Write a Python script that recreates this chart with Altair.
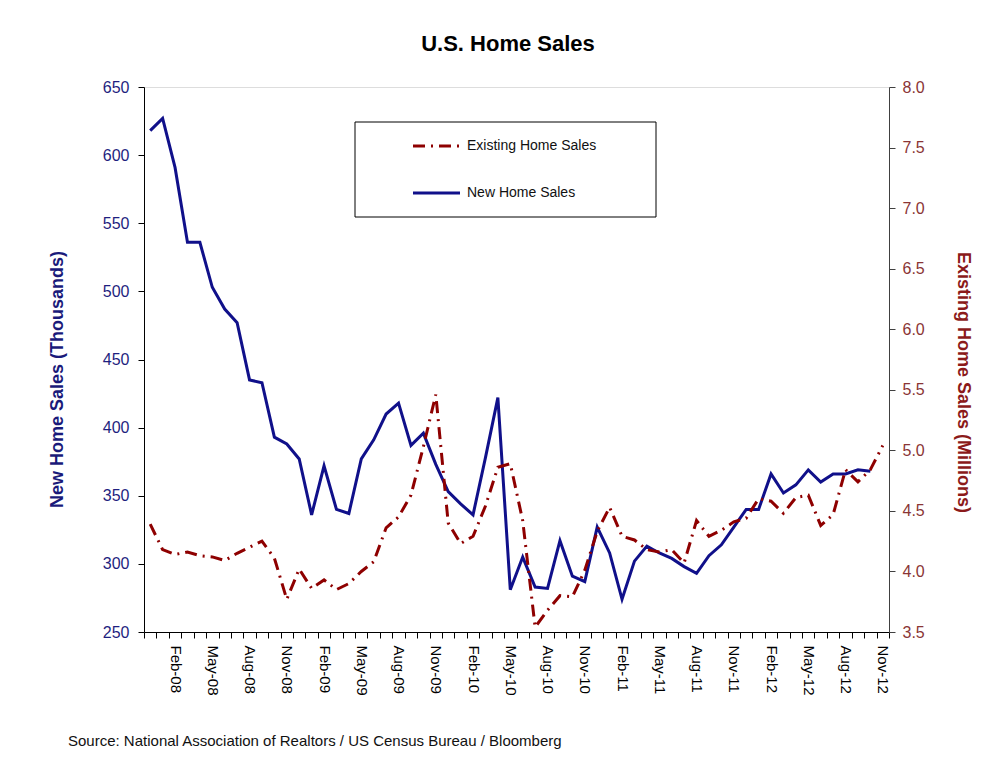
import json
import altair as alt
import pandas as pd

# ---------------- data ----------------
months = [
    "Dec-07",
    "Jan-08", "Feb-08", "Mar-08", "Apr-08", "May-08", "Jun-08", "Jul-08", "Aug-08", "Sep-08", "Oct-08", "Nov-08", "Dec-08",
    "Jan-09", "Feb-09", "Mar-09", "Apr-09", "May-09", "Jun-09", "Jul-09", "Aug-09", "Sep-09", "Oct-09", "Nov-09", "Dec-09",
    "Jan-10", "Feb-10", "Mar-10", "Apr-10", "May-10", "Jun-10", "Jul-10", "Aug-10", "Sep-10", "Oct-10", "Nov-10", "Dec-10",
    "Jan-11", "Feb-11", "Mar-11", "Apr-11", "May-11", "Jun-11", "Jul-11", "Aug-11", "Sep-11", "Oct-11", "Nov-11", "Dec-11",
    "Jan-12", "Feb-12", "Mar-12", "Apr-12", "May-12", "Jun-12", "Jul-12", "Aug-12", "Sep-12", "Oct-12", "Nov-12",
]

# New home sales (thousands), Dec-07 .. Oct-12
new_home = [
    618,
    627, 591, 536, 536, 503, 487, 477, 435, 433, 393, 388, 377,
    336, 372, 340, 337, 377, 391, 410, 418, 387, 396, 373, 353,
    344, 336, 378, 422, 281, 305, 283, 282, 317, 291, 287, 327,
    308, 274, 302, 313, 308, 304, 298, 293, 306, 314, 327, 340,
    340, 366, 352, 358, 369, 360, 366, 366, 369, 368,
]

# Existing home sales (millions), Dec-07 .. Nov-12
existing = [
    4.39,
    4.18, 4.14, 4.16, 4.13, 4.12, 4.09, 4.15, 4.20, 4.25, 4.11, 3.77, 4.02,
    3.86, 3.93, 3.85, 3.90, 4.00, 4.08, 4.36, 4.45, 4.63, 5.03, 5.46, 4.40,
    4.23, 4.29, 4.54, 4.86, 4.89, 4.42, 3.54, 3.68, 3.80, 3.79, 4.01, 4.33,
    4.53, 4.29, 4.26, 4.18, 4.16, 4.18, 4.07, 4.42, 4.29, 4.34, 4.41, 4.44,
    4.60, 4.58, 4.48, 4.61, 4.63, 4.38, 4.47, 4.84, 4.74, 4.84, 5.04,
]

left_ticks = [250, 300, 350, 400, 450, 500, 550, 600, 650]
right_ticks = [3.5, 4.0, 4.5, 5.0, 5.5, 6.0, 6.5, 7.0, 7.5, 8.0]
legend_labels = ["Existing Home Sales", "New Home Sales"]
chart_title = ["U.S. Home Sales"]
source_text = ["Source:  National Association of Realtors / US Census Bureau / Bloomberg"]

NAVY = "#10108a"
RED = "#8e0000"
FONT = "Liberation Sans"

new_df = pd.DataFrame({"month": months[: len(new_home)], "value": new_home})
ex_df = pd.DataFrame({"month": months, "value": existing})

shown = [m for m in months if m[:3] in ("Feb", "May", "Aug", "Nov")]
label_expr = "indexof(" + json.dumps(shown) + ", datum.value) >= 0 ? datum.value : ''"

x_axis = alt.Axis(
    title=None, labelAngle=90, labelAlign="left", labelBaseline="middle",
    labelExpr=label_expr, tickBand="extent", labelOverlap=False, labelBound=False,
    labelFontSize=15, labelColor="black", labelFont=FONT, tickSize=6, labelPadding=7,
    domainColor="black", tickColor="black", grid=False,
)
x_enc = alt.X(
    "month:O", sort=months,
    scale=alt.Scale(type="band", domain=months, paddingInner=0, paddingOuter=0),
    bandPosition=0.5, axis=x_axis,
)

new_line = alt.Chart(new_df).mark_line(color=NAVY, strokeWidth=3).encode(
    x=x_enc,
    y=alt.Y(
        "value:Q",
        scale=alt.Scale(domain=[250, 650], zero=False, nice=False),
        axis=alt.Axis(
            orient="left", values=left_ticks, format="d", grid=False,
            title="New Home Sales (Thousands)", titleColor="#1a1a7a", titleFontSize=18,
            titleFont=FONT, titleFontWeight="bold", titleAngle=270, titleX=-87, titleY=292,
            titleAlign="center", titleBaseline="middle",
            labelColor="#1f1f80", labelFontSize=16, labelFont=FONT, labelPadding=9,
            tickSize=6, tickColor="black", domainColor="black",
        ),
    ),
)

ex_line = alt.Chart(ex_df).mark_line(color=RED, strokeWidth=3, strokeDash=[12, 6, 2, 6]).encode(
    x=x_enc,
    y=alt.Y(
        "value:Q",
        scale=alt.Scale(domain=[3.5, 8.0], zero=False, nice=False),
        axis=alt.Axis(
            orient="right", values=right_ticks, format=".1f", grid=False,
            title="Existing Home Sales (Millions)", titleColor="#8b1a1a", titleFontSize=18,
            titleFont=FONT, titleFontWeight="bold", titleAngle=90, titleX=73, titleY=295,
            titleAlign="center", titleBaseline="middle",
            labelColor="#8a3535", labelFontSize=16, labelFont=FONT, labelPadding=7,
            tickSize=6, tickColor="#404040", domainColor="#404040",
        ),
    ),
)

box = alt.Chart(pd.DataFrame({"k": [0]})).mark_rect(
    fill="white", stroke="black", strokeWidth=1
).encode(x=alt.value(211), x2=alt.value(512), y=alt.value(35), y2=alt.value(130))

leg_ex_line = alt.Chart(pd.DataFrame({"s": [legend_labels[0]]})).mark_rule(
    color=RED, strokeWidth=3, strokeDash=[12, 6, 2, 6]
).encode(x=alt.value(269), x2=alt.value(316), y=alt.value(59))
leg_new_line = alt.Chart(pd.DataFrame({"s": [legend_labels[1]]})).mark_rule(
    color=NAVY, strokeWidth=3
).encode(x=alt.value(269), x2=alt.value(316), y=alt.value(106))

leg_ex_text = alt.Chart(pd.DataFrame({"s": [legend_labels[0]]})).mark_text(
    align="left", baseline="middle", fontSize=14, font=FONT, color="#111111"
).encode(x=alt.value(323), y=alt.value(59), text="s:N")
leg_new_text = alt.Chart(pd.DataFrame({"s": [legend_labels[1]]})).mark_text(
    align="left", baseline="middle", fontSize=14, font=FONT, color="#111111"
).encode(x=alt.value(323), y=alt.value(106), text="s:N")

title_text = alt.Chart(pd.DataFrame({"s": chart_title})).mark_text(
    align="center", baseline="middle", fontSize=22, font=FONT, fontWeight="bold", color="black"
).encode(x=alt.value(364), y=alt.value(-43), text="s:N")

source = alt.Chart(pd.DataFrame({"s": source_text})).mark_text(
    align="left", baseline="middle", fontSize=15, font=FONT, color="#111111"
).encode(x=alt.value(-76), y=alt.value(654), text="s:N")

chart = alt.layer(
    box, new_line, ex_line, leg_ex_line, leg_new_line, leg_ex_text, leg_new_text,
    title_text, source,
).resolve_scale(y="independent").properties(
    width=745, height=545,
    autosize=alt.AutoSizeParams(type="none"),
    padding={"left": 136, "top": 79, "right": 96, "bottom": 120},
).configure_view(stroke="#8c8c8c", strokeWidth=1).configure(font=FONT, background="white")

chart.save("out.html", embed_options={"renderer": "svg", "actions": False})
